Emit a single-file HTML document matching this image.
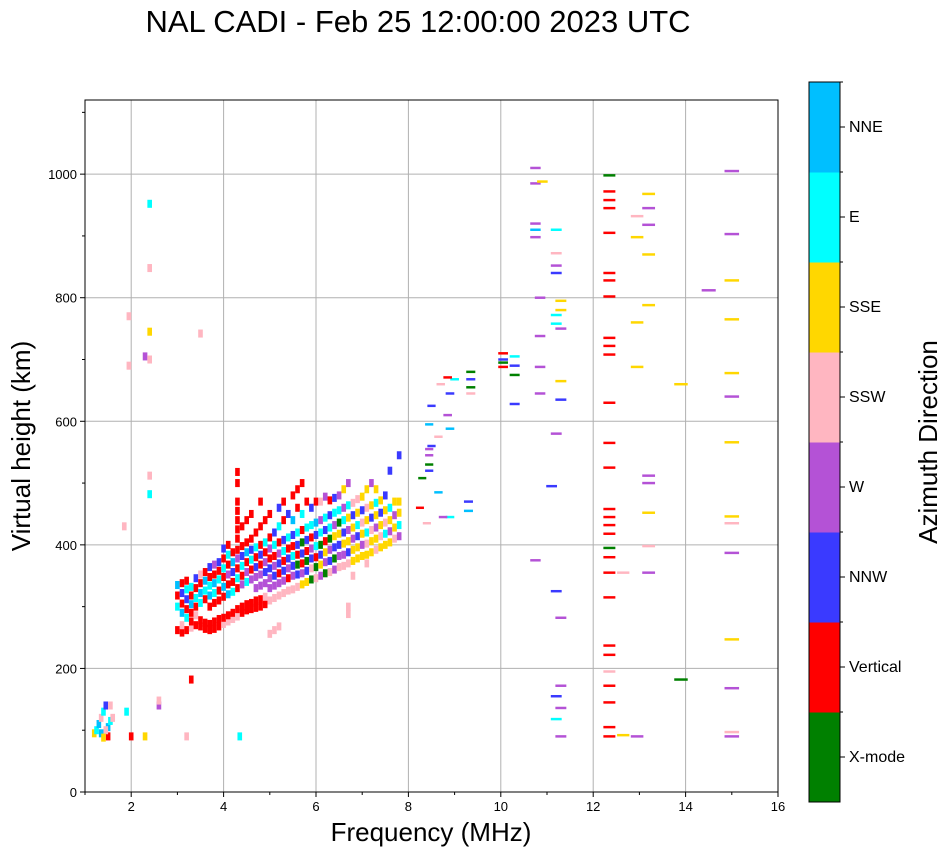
<!DOCTYPE html>
<html><head><meta charset="utf-8">
<style>
body{margin:0;background:#fff;}
svg text{font-family:"Liberation Sans",sans-serif;}
</style></head><body>
<svg id="chart" width="951" height="856" viewBox="0 0 951 856">
<text x="418" y="32" font-size="31" text-anchor="middle">NAL CADI - Feb 25 12:00:00 2023 UTC</text>
<g id="grid"></g>
<g id="marks"></g>
<rect x="85" y="100" width="693" height="692" fill="none" stroke="#000" stroke-width="1"/>
<g id="axes"></g>
<text x="431" y="841" font-size="26" text-anchor="middle">Frequency (MHz)</text>
<text transform="translate(30,446) rotate(-90)" font-size="26" text-anchor="middle">Virtual height (km)</text>
<g id="cbar"></g>
<text transform="translate(937,442) rotate(-90)" font-size="26" text-anchor="middle">Azimuth Direction</text>
</svg>
<script>
const xTicks=[2,4,6,8,10,12,14,16];
const yTicks=[0,200,400,600,800,1000];
const dirLabels=["X-mode","Vertical","NNW","W","SSW","SSE","E","NNE"];
const dirColors=["#008000","#ff0000","#3a3aff","#b452d6","#ffb6c1","#ffd700","#00ffff","#00bfff"];
// points: frequency (MHz), height (km), direction index
const pts=[
[1.2,95,5],[1.25,100,6],[1.3,110,7],[1.35,120,4],[1.4,130,6],[1.45,140,2],[1.5,90,1],[1.5,105,7],[1.55,115,6],[1.45,100,4],[1.35,95,7],[1.55,140,4],[1.6,120,4],[1.4,88,5],[1.9,130,6],[2.0,90,1],[2.3,90,5],[2.6,140,3],[2.6,148,4],[3.2,90,4],[4.35,90,6],[3.3,182,1],[1.95,690,4],[2.3,705,3],[2.4,700,4],[2.4,745,5],[2.4,848,4],[2.4,952,6],[2.4,512,4],[2.4,482,6],[1.85,430,4],[1.95,770,4],[3.5,742,4],
[8.25,460,1],[8.3,508,0],[8.4,435,4],[8.45,520,2],[8.45,545,3],[8.5,560,2],[8.45,595,7],[8.5,625,2],[8.65,485,7],[8.65,575,4],[8.7,660,4],[8.85,610,3],[8.9,645,2],[8.9,588,7],[8.9,445,6],[9.0,668,6],[9.3,470,2],[9.3,455,7],[9.35,680,0],[9.35,668,2],[9.35,645,4],[8.75,445,3],[8.85,671,1],[8.45,555,3],[8.45,530,0],[9.35,655,0],
[10.05,710,1],[10.05,695,0],[10.05,700,2],[10.05,688,1],[10.3,705,6],[10.3,690,2],[10.3,675,0],[10.3,628,2],
[10.75,1010,3],[10.75,985,3],[10.75,920,3],[10.75,898,3],[10.75,910,7],[10.85,800,3],[10.85,738,3],[10.85,688,3],[10.85,645,3],[10.75,375,3],[10.9,988,5],[11.1,495,2],[11.2,910,6],[11.2,872,4],[11.2,852,3],[11.2,840,2],[11.2,772,6],[11.2,758,6],[11.2,580,3],[11.2,325,2],[11.2,155,2],[11.2,118,6],[11.3,795,5],[11.3,780,5],[11.3,750,3],[11.3,665,5],[11.3,635,2],[11.3,282,3],[11.3,172,3],[11.3,136,3],[11.3,90,3],
[12.35,998,0],[12.35,972,1],[12.35,958,1],[12.35,945,1],[12.35,905,1],[12.35,840,1],[12.35,828,1],[12.35,802,1],[12.35,735,1],[12.35,722,1],[12.35,708,1],[12.35,630,1],[12.35,565,1],[12.35,525,1],[12.35,458,1],[12.35,445,1],[12.35,432,1],[12.35,418,1],[12.35,395,0],[12.35,380,1],[12.35,355,1],[12.35,315,1],[12.35,237,1],[12.35,222,1],[12.35,195,4],[12.35,172,1],[12.35,145,1],[12.35,105,1],[12.35,90,1],[12.65,355,4],[12.65,92,5],[12.95,932,4],[12.95,898,5],[12.95,760,5],[12.95,688,5],[12.95,90,3],
[13.2,968,5],[13.2,945,3],[13.2,918,3],[13.2,870,5],[13.2,788,5],[13.2,512,3],[13.2,500,3],[13.2,452,5],[13.2,398,4],[13.2,355,3],[13.9,660,5],[13.9,182,0],[14.5,812,3],
[15.0,1005,3],[15.0,903,3],[15.0,828,5],[15.0,765,5],[15.0,678,5],[15.0,640,3],[15.0,566,5],[15.0,446,5],[15.0,435,4],[15.0,387,3],[15.0,247,5],[15.0,168,3],[15.0,97,4],[15.0,90,3]
];
// dense F-layer trace: [frequency, [[height, direction], ...]]
const cols=[
[3.0,[[262,1],[300,6],[318,1],[335,7]]],
[3.1,[[258,1],[270,4],[290,7],[305,1],[322,2],[338,1]]],
[3.2,[[262,1],[282,6],[296,1],[312,2],[328,6],[342,1]]],
[3.3,[[266,4],[276,1],[290,1],[304,7],[318,1],[332,6]]],
[3.4,[[270,1],[286,4],[300,1],[314,6],[330,1],[346,2]]],
[3.5,[[268,1],[278,1],[306,6],[322,7],[338,1],[352,4]]],
[3.6,[[264,1],[274,1],[312,1],[326,6],[342,7],[356,1]]],
[3.7,[[262,1],[272,1],[300,1],[318,7],[334,6],[348,1],[364,2]]],
[3.8,[[264,1],[276,1],[306,1],[322,6],[338,7],[352,1],[368,3]]],
[3.9,[[268,1],[280,1],[310,1],[326,1],[344,6],[358,1],[372,2]]],
[4.0,[[272,4],[282,1],[316,1],[332,7],[348,1],[362,6],[378,1],[394,2]]],
[4.1,[[276,4],[286,1],[320,7],[336,1],[352,3],[368,1],[384,6],[400,1]]],
[4.2,[[280,4],[290,1],[324,6],[340,1],[356,2],[372,7],[388,1]]],
[4.3,[[284,4],[296,1],[330,1],[346,6],[362,1],[378,3],[392,1],[410,1],[425,1],[440,1],[455,1],[470,1],[500,1],[518,1]]],
[4.4,[[290,1],[300,1],[336,3],[350,1],[366,6],[382,2],[398,1],[430,1]]],
[4.5,[[294,1],[304,1],[340,6],[356,3],[372,1],[388,7],[404,1],[440,1]]],
[4.6,[[296,1],[306,1],[344,3],[360,1],[376,6],[392,2],[410,1],[450,1]]],
[4.7,[[298,1],[310,1],[330,3],[348,3],[364,2],[380,1],[396,6],[420,1]]],
[4.8,[[300,1],[312,1],[334,3],[352,3],[368,1],[384,2],[400,1],[430,1],[470,1]]],
[4.9,[[304,1],[316,4],[338,3],[356,2],[372,3],[388,1],[404,6],[440,1]]],
[5.0,[[256,4],[310,4],[330,3],[346,3],[362,2],[378,1],[394,3],[412,1],[450,1]]],
[5.1,[[262,4],[314,4],[334,3],[350,2],[366,3],[382,1],[400,6],[420,2]]],
[5.2,[[268,4],[318,4],[338,3],[354,1],[370,2],[386,3],[404,1],[430,6],[460,2]]],
[5.3,[[322,4],[342,3],[358,2],[374,1],[390,6],[408,2],[440,1],[470,1]]],
[5.4,[[326,4],[346,1],[362,3],[378,2],[394,1],[412,6],[450,2]]],
[5.5,[[328,4],[350,3],[366,2],[382,6],[398,1],[416,2],[440,7],[480,1]]],
[5.6,[[332,4],[352,2],[368,0],[384,1],[400,2],[420,6],[460,1],[490,1]]],
[5.7,[[336,5],[354,3],[370,1],[386,2],[404,0],[424,1],[450,6],[500,1]]],
[5.8,[[340,5],[358,2],[374,0],[390,1],[408,2],[428,6],[470,1]]],
[5.9,[[344,0],[362,4],[378,2],[394,3],[412,1],[432,6],[460,2]]],
[6.0,[[346,4],[364,0],[380,1],[398,6],[416,2],[436,7],[470,1]]],
[6.1,[[350,3],[368,5],[384,2],[400,0],[420,6],[440,3],[470,4]]],
[6.2,[[354,0],[372,3],[388,5],[406,1],[424,2],[444,6],[478,3]]],
[6.3,[[356,4],[374,2],[392,3],[410,0],[428,6],[448,2],[472,1]]],
[6.4,[[360,3],[378,0],[396,2],[414,5],[432,3],[452,6],[476,2]]],
[6.5,[[364,4],[382,3],[400,2],[418,5],[436,0],[456,6],[480,3]]],
[6.6,[[366,4],[384,3],[402,5],[420,2],[440,6],[460,3],[490,5]]],
[6.7,[[370,4],[388,2],[406,5],[424,3],[444,5],[464,6],[500,3],[300,4],[288,4]]],
[6.8,[[374,5],[392,5],[410,3],[428,5],[448,2],[468,4],[350,4]]],
[6.9,[[378,5],[396,5],[414,2],[432,6],[452,5],[474,4]]],
[7.0,[[382,5],[400,3],[418,5],[436,4],[456,2],[478,5]]],
[7.1,[[384,5],[402,4],[420,6],[440,5],[460,4],[490,5],[370,4]]],
[7.2,[[388,5],[406,5],[424,4],[444,2],[464,5],[500,3]]],
[7.3,[[392,4],[410,5],[428,3],[448,5],[468,6],[490,5]]],
[7.4,[[396,5],[414,4],[432,5],[452,2],[472,5]]],
[7.5,[[400,5],[418,6],[436,4],[456,5],[480,2]]],
[7.6,[[404,5],[422,3],[440,5],[460,6],[520,2]]],
[7.7,[[410,4],[428,5],[448,3],[470,5]]],
[7.8,[[414,3],[432,6],[452,5],[470,5],[545,2]]]
];
const NS="http://www.w3.org/2000/svg";
const X0=85,X1=778,Y0=792,Y1=100,xmin=1,xmax=16,ymin=0,ymax=1120;
function xs(f){return X0+(f-xmin)/(xmax-xmin)*(X1-X0);}
function ys(h){return Y0-(h-ymin)/(ymax-ymin)*(Y0-Y1);}
function mk(t,a,p){const e=document.createElementNS(NS,t);for(const k in a)e.setAttribute(k,a[k]);p.appendChild(e);return e;}
const grid=document.getElementById('grid'),axes=document.getElementById('axes'),marks=document.getElementById('marks'),cbar=document.getElementById('cbar');
xTicks.forEach(v=>{const x=xs(v);
 const g=mk('line',{x1:x,x2:x,y1:Y1,y2:Y0,stroke:'#b0b0b0','stroke-width':1},grid);
 
 
 mk('line',{x1:x,x2:x,y1:Y0,y2:Y0+5,stroke:'#000'},axes);
 const t=mk('text',{x:x,y:Y0+19,'font-size':13,'text-anchor':'middle'},axes);t.textContent=v;
 
 });
for(let v=1;v<=16;v++){if(v%2){const x=xs(v);mk('line',{x1:x,x2:x,y1:Y0,y2:Y0+3,stroke:'#000'},axes);}}
yTicks.forEach(v=>{const y=ys(v);
 const g=mk('line',{x1:X0,x2:X1,y1:y,y2:y,stroke:'#b0b0b0','stroke-width':1},grid);
 
 
 mk('line',{x1:X0-5,x2:X0,y1:y,y2:y,stroke:'#000'},axes);
 const t=mk('text',{x:X0-8,y:y+5,'font-size':13,'text-anchor':'end'},axes);t.textContent=v;
 
 });
for(let v=100;v<1120;v+=200){const y=ys(v);mk('line',{x1:X0-3,x2:X0,y1:y,y2:y,stroke:'#000'},axes);}
function cell(f,h,d){
 const w=f<8?0.1:0.021*f;const hk=f<8?13:4;
 const r=mk('rect',{x:xs(f-w/2),y:ys(h+hk/2),width:xs(f+w/2)-xs(f-w/2),height:ys(0)-ys(hk),fill:dirColors[d]},marks);
 
 }
pts.forEach(p=>cell(p[0],p[1],p[2]));
cols.forEach(c=>c[1].forEach(e=>cell(c[0],e[0],e[1])));
const CX=809,CW=31,CT=82,CB=802,bh=(CB-CT)/8;
dirLabels.forEach((l,i)=>{const y=CB-(i+1)*bh;
 const r=mk('rect',{x:CX,y:y,width:CW,height:bh+0.5,fill:dirColors[i]},cbar);
 
 
 mk('line',{x1:CX+CW,x2:CX+CW+5,y1:y+bh/2,y2:y+bh/2,stroke:'#000'},cbar);
 mk('line',{x1:CX+CW,x2:CX+CW+3,y1:y,y2:y,stroke:'#000'},cbar);
 const t=mk('text',{x:CX+CW+9,y:y+bh/2+5,'font-size':16},cbar);t.textContent=l;
 
 });
mk('rect',{x:CX,y:CT,width:CW,height:CB-CT,fill:'none',stroke:'#000'},cbar);
</script>
</body></html>
